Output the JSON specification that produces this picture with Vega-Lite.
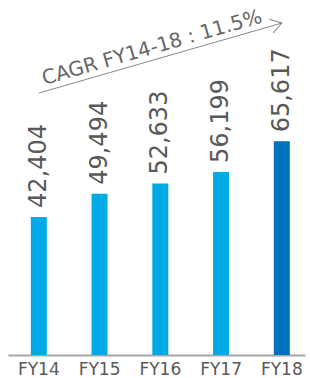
{
  "$schema": "https://vega.github.io/schema/vega-lite/v6.json",
  "width": 297,
  "height": 355,
  "padding": {"left": 8, "top": 0, "right": 5, "bottom": 23},
  "autosize": {"type": "none"},
  "config": {"view": {"stroke": null}, "font": "DejaVu Sans"},
  "datasets": {
    "bars": [
      {"year": "FY14", "value": 42404},
      {"year": "FY15", "value": 49494},
      {"year": "FY16", "value": 52633},
      {"year": "FY17", "value": 56199},
      {"year": "FY18", "value": 65617}
    ],
    "arrow": [
      {"year": "FY14", "v": 80434},
      {"year": "FY18", "v": 101924}
    ],
    "head": [
      {"year": "FY18", "v": 101924}
    ],
    "cagr": [
      {"year": "FY16", "v": 91179, "label": "CAGR FY14-18 : 11.5%"}
    ]
  },
  "layer": [
    {
      "data": {"name": "bars"},
      "mark": {"type": "bar", "width": 16},
      "encoding": {
        "x": {
          "field": "year", "type": "nominal", "sort": null,
          "scale": {"paddingInner": 0.737, "paddingOuter": 0.313, "align": 0.6},
          "axis": {"title": null, "domainColor": "#a6a6a6", "domainWidth": 2, "ticks": false, "labelAngle": 0, "labelFontSize": 17, "labelColor": "#595959", "labelPadding": 6, "grid": false}
        },
        "y": {"field": "value", "type": "quantitative", "scale": {"domain": [0, 109000], "nice": false}, "axis": null},
        "color": {"field": "year", "type": "nominal", "scale": {"domain": ["FY14", "FY15", "FY16", "FY17", "FY18"], "range": ["#00AAE7", "#00AAE7", "#00AAE7", "#00AAE7", "#0071BC"]}, "legend": null}
      }
    },
    {
      "data": {"name": "bars"},
      "mark": {"type": "text", "angle": 270, "align": "left", "baseline": "middle", "dx": 9, "fontSize": 24, "color": "#595959"},
      "encoding": {
        "x": {"field": "year", "type": "nominal", "sort": null},
        "y": {"field": "value", "type": "quantitative"},
        "text": {"field": "value", "type": "quantitative", "format": ","}
      }
    },
    {
      "data": {"name": "arrow"},
      "mark": {"type": "line", "color": "#888888", "strokeWidth": 1},
      "encoding": {
        "x": {"field": "year", "type": "nominal", "sort": null},
        "y": {"field": "v", "type": "quantitative"}
      }
    },
    {
      "data": {"name": "head"},
      "mark": {"type": "point", "shape": "M-1,-0.65L0,0L-1,0.65", "filled": false, "size": 484, "angle": 344, "stroke": "#888888", "strokeWidth": 1, "opacity": 1},
      "encoding": {
        "x": {"field": "year", "type": "nominal", "sort": null},
        "y": {"field": "v", "type": "quantitative"}
      }
    },
    {
      "data": {"name": "cagr"},
      "mark": {"type": "text", "angle": 344, "align": "center", "baseline": "alphabetic", "dx": -5, "dy": -6, "fontSize": 20, "color": "#666666"},
      "encoding": {
        "x": {"field": "year", "type": "nominal", "sort": null},
        "y": {"field": "v", "type": "quantitative"},
        "text": {"field": "label"}
      }
    }
  ]
}
